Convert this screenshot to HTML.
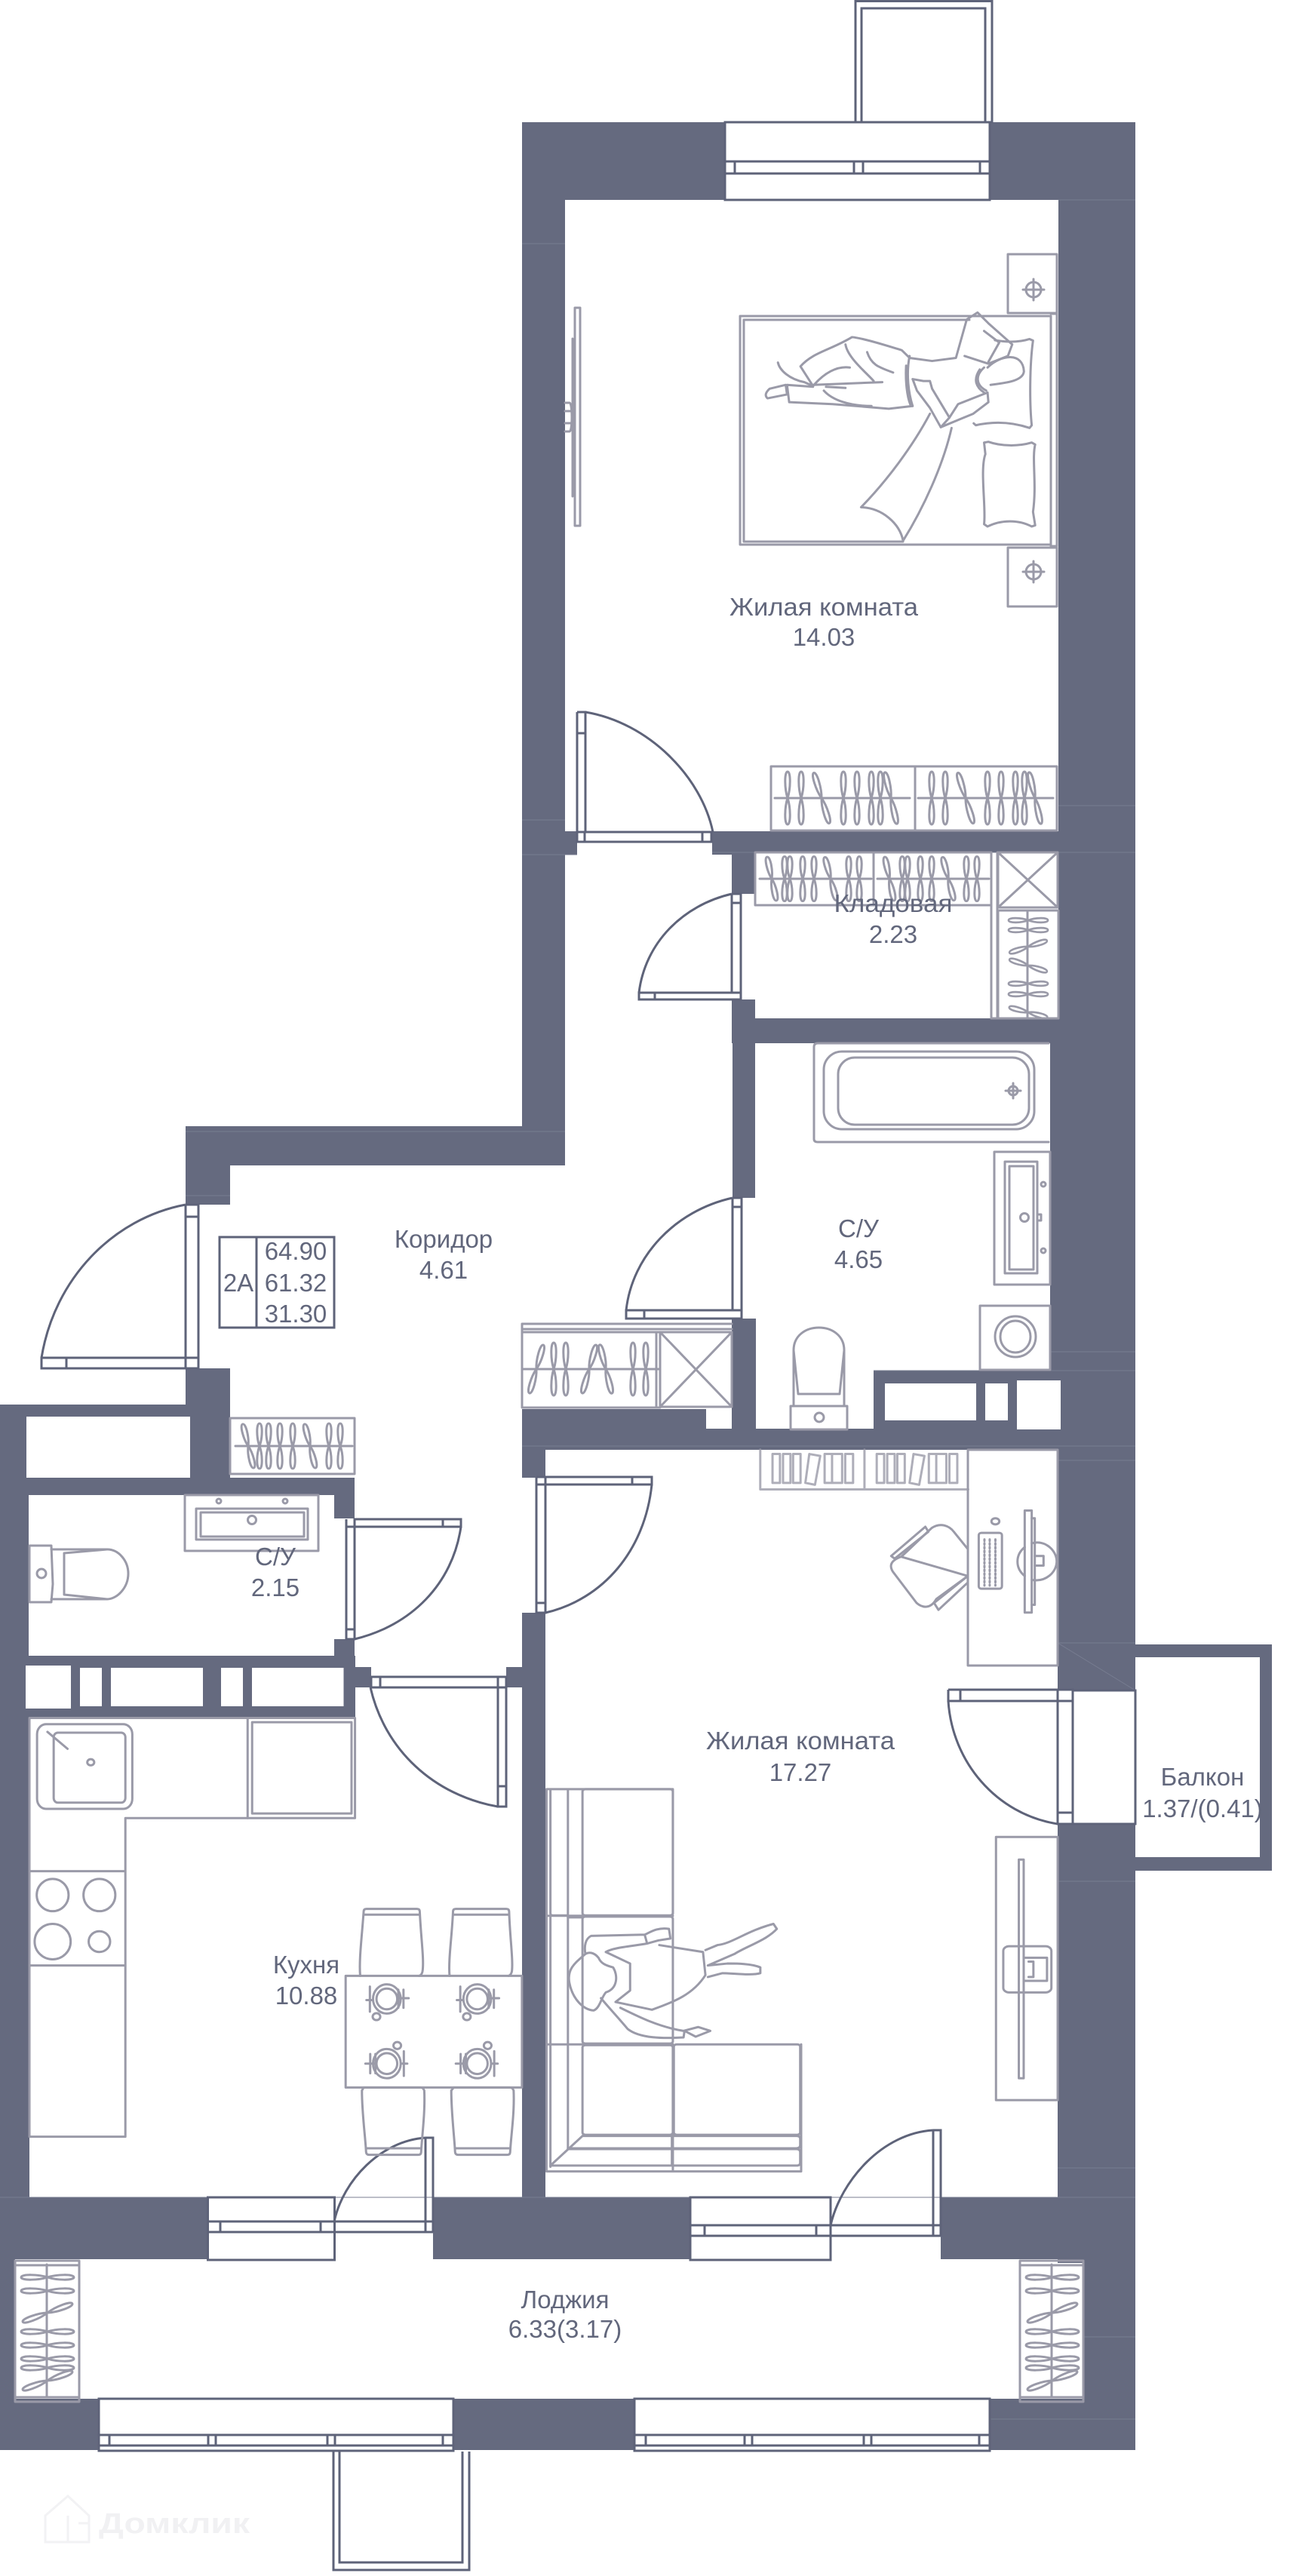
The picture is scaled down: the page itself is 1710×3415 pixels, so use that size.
<!DOCTYPE html>
<html><head><meta charset="utf-8"><style>
html,body{margin:0;padding:0;background:#fff}
svg{display:block}
text{font-family:"Liberation Sans",sans-serif;font-size:33px;fill:#62677c;text-anchor:middle}
.w{fill:#656a7f}
.k{fill:#fff}
.d *,.d{fill:none;stroke:#5e6379;stroke-width:3}
.f *{fill:none;stroke:#9a9aa8;stroke-width:3;vector-effect:non-scaling-stroke;stroke-linejoin:round;stroke-linecap:round}
.fl line{stroke:#787d91;stroke-width:1}
</style></head><body>
<svg width="1710" height="3415" viewBox="0 0 1710 3415" xmlns="http://www.w3.org/2000/svg">
<defs>
<path id="h" d="M0,-35C4.500,-35 4,-12 0,0C-4,12 -4.500,35 0,35C4.500,35 4,12 0,0C-4,-12 -4.500,-35 0,-35Z"/>
<g id="rackA">
<use href="#h" x="1044" y="1058"/><use href="#h" x="1062" y="1058"/><use href="#h" transform="translate(1089 1058) rotate(-17)"/><use href="#h" x="1118" y="1058"/><use href="#h" x="1136" y="1058"/><use href="#h" x="1155" y="1058"/><use href="#h" x="1167" y="1058"/><use href="#h" transform="translate(1181 1058) rotate(-13)"/>
</g>
<g id="rackB">
<use href="#h" transform="translate(1023 1165) rotate(-12) scale(1 .85)"/><use href="#h" transform="translate(1040 1165) scale(1 .85)"/><use href="#h" transform="translate(1047 1165) scale(1 .85)"/><use href="#h" transform="translate(1064 1165) scale(1 .85)"/><use href="#h" transform="translate(1079 1165) scale(1 .85)"/><use href="#h" transform="translate(1101 1165) rotate(-15) scale(1 .85)"/><use href="#h" transform="translate(1125 1165) scale(1 .85)"/><use href="#h" transform="translate(1139 1165) scale(1 .85)"/>
</g>
<g id="rackL">
<use href="#h" transform="translate(0 3019) rotate(90)"/><use href="#h" transform="translate(0 3037) rotate(90)"/><use href="#h" transform="translate(0 3066) rotate(70)"/><use href="#h" transform="translate(0 3091) rotate(90)"/><use href="#h" transform="translate(0 3109) rotate(90)"/><use href="#h" transform="translate(0 3127) rotate(90)"/><use href="#h" transform="translate(0 3139) rotate(90)"/><use href="#h" transform="translate(0 3156) rotate(70)"/>
</g>
</defs>
<rect width="1710" height="3415" fill="#fff"/>
<g class="w">
<rect x="692" y="162" width="269" height="103"/>
<rect x="1312" y="162" width="193" height="103"/>
<rect x="692" y="162" width="57" height="1383"/>
<rect x="1403" y="265" width="102" height="1085"/>
<rect x="749" y="1102" width="16" height="31"/>
<rect x="944" y="1102" width="561" height="28"/>
<rect x="944" y="1102" width="26" height="31"/>
<rect x="970" y="1129" width="31" height="56"/>
<rect x="970" y="1325" width="31" height="58"/>
<rect x="970" y="1350" width="535" height="33"/>
<rect x="1392" y="1383" width="113" height="539"/>
<rect x="971" y="1383" width="30" height="205"/>
<rect x="970" y="1748" width="32" height="174"/>
<rect x="692" y="1868" width="244" height="54"/>
<rect x="936" y="1894" width="569" height="28"/>
<rect x="1158" y="1817" width="347" height="105"/>
<rect x="692" y="1922" width="31" height="37"/>
<rect x="1402" y="1922" width="103" height="319"/>
<rect x="1505" y="2180" width="181" height="17"/>
<rect x="1670" y="2180" width="16" height="300"/>
<rect x="1505" y="2462" width="181" height="18"/>
<rect x="1402" y="2418" width="103" height="582"/>
<rect x="692" y="2138" width="31" height="775"/>
<rect x="671" y="2210" width="21" height="27"/>
<rect x="0" y="2913" width="275" height="82"/>
<rect x="574" y="2913" width="341" height="82"/>
<rect x="1247" y="2913" width="258" height="82"/>
<rect x="0" y="2195" width="39" height="800"/>
<rect x="0" y="2995" width="20" height="185"/>
<rect x="1437" y="2995" width="68" height="185"/>
<rect x="0" y="3180" width="131" height="68"/>
<rect x="601" y="3180" width="240" height="68"/>
<rect x="1312" y="3180" width="193" height="68"/>
<rect x="246" y="1493" width="503" height="52"/>
<rect x="246" y="1545" width="59" height="52"/>
<rect x="246" y="1814" width="59" height="64"/>
<rect x="0" y="1862" width="305" height="16"/>
<rect x="252" y="1878" width="53" height="81"/>
<rect x="0" y="1862" width="35" height="97"/>
<rect x="0" y="1959" width="470" height="23"/>
<rect x="0" y="1982" width="38" height="213"/>
<rect x="443" y="1982" width="27" height="31"/>
<rect x="443" y="2173" width="27" height="22"/>
<rect x="0" y="2195" width="471" height="81"/>
<rect x="471" y="2210" width="21" height="27"/>
</g>
<g class="k">
<rect x="1173" y="1834" width="121" height="49"/>
<rect x="1306" y="1834" width="30" height="49"/>
<rect x="1348" y="1830" width="58" height="65"/>
<rect x="34" y="2208" width="60" height="57"/>
<rect x="106" y="2211" width="29" height="51"/>
<rect x="147" y="2211" width="122" height="51"/>
<rect x="293" y="2211" width="29" height="51"/>
<rect x="334" y="2211" width="121.500" height="51"/>
</g>
<g class="fl">
<line x1="692" y1="323" x2="749" y2="323"/>
<line x1="1403" y1="265" x2="1505" y2="265"/>
<line x1="692" y1="1087" x2="749" y2="1087"/>
<line x1="692" y1="1133" x2="765" y2="1133"/>
<line x1="944" y1="1130" x2="1505" y2="1130"/>
<line x1="1403" y1="1068" x2="1505" y2="1068"/>
<line x1="246" y1="1500" x2="749" y2="1500"/>
<line x1="246" y1="1585" x2="305" y2="1585"/>
<line x1="1392" y1="1792" x2="1505" y2="1792"/>
<line x1="1158" y1="1817" x2="1505" y2="1817"/>
<line x1="692" y1="1917" x2="1505" y2="1917"/>
<line x1="1402" y1="1936" x2="1505" y2="1936"/>
<line x1="1402" y1="2178" x2="1505" y2="2178"/>
<line x1="1402" y1="2178" x2="1505" y2="2241"/>
<line x1="1402" y1="2494" x2="1505" y2="2494"/>
<line x1="1402" y1="2874" x2="1505" y2="2874"/>
<line x1="0" y1="2913" x2="1505" y2="2913"/>
<line x1="1437" y1="3098" x2="1505" y2="3098"/>
<line x1="1312" y1="3207" x2="1505" y2="3207"/>
</g>
<g class="d">
<rect x="1134" y="1.500" width="181" height="160.500"/>
<rect x="1142" y="11" width="164" height="151"/>
<rect x="961" y="162" width="351" height="103"/>
<path d="M961,214H1312M961,230H1312M974,214V230M1132,214V230M1144,214V230M1299,214V230"/>
<path d="M765,944H776V1103M765,944V1116H943V1103H765M765,972H776M775,1103V1116M931,1103V1116"/>
<path d="M776,944C860,958 930,1030 945,1103"/>
<path d="M970,1185H982V1325H847V1316H982M970,1185V1316M868,1316V1325M970,1197H982"/>
<path d="M970,1185C905,1200 855,1250 847,1316"/>
<path d="M971,1588H983V1748H830V1737H983M971,1588V1737M854,1737V1748M971,1600H983"/>
<path d="M971,1588C895,1605 838,1665 830,1737"/>
<path d="M246,1597H263V1814H55V1800H263M246,1597V1800M246,1613H263M88,1800V1814M246,1800V1814"/>
<path d="M246,1597C150,1615 72,1695 55,1800"/>
<path d="M459,2014V2173H470V2014H611V2024H459M587,2014V2024M459,2160H470"/>
<path d="M611,2024C600,2100 545,2155 470,2173"/>
<path d="M492,2223H671V2395H660V2223M492,2223V2237H671M504,2223V2237M660,2368H671"/>
<path d="M491,2237C510,2320 575,2380 660,2395"/>
<path d="M711,1959V2138H723V1959M711,1958H864V1968H711M838,1958V1968M711,2125H723"/>
<path d="M864,1968C855,2055 800,2120 723,2138"/>
<path d="M1257,2240H1422V2418H1402V2241M1257,2240V2255H1402M1273,2240V2255M1402,2255H1422M1402,2403H1422"/>
<path d="M1257,2255C1262,2335 1320,2405 1402,2418"/>
<path d="M1422,2241H1505V2418H1422" stroke-width="2"/>
<rect x="275.500" y="2913" width="168" height="83"/>
<path d="M275,2945H574M275,2959H574M292,2945V2959M425,2945V2959M564,2834H574V2959M564,2834V2959"/>
<path d="M443,2945C455,2890 505,2838 564,2834"/>
<rect x="915" y="2913" width="186" height="83"/>
<path d="M915,2950H1247M915,2964H1247M934,2950V2964M1082,2950V2964M1237,2824H1247V2964M1237,2824V2964"/>
<path d="M1101,2950C1115,2890 1170,2828 1237,2824"/>
<rect x="131" y="3180" width="470" height="69"/>
<path d="M131,3228H601M131,3242H601M145,3228V3242M276,3228V3242M286,3228V3242M434,3228V3242M444,3228V3242M587,3228V3242"/>
<rect x="841" y="3180" width="471" height="69"/>
<path d="M841,3228H1312M841,3242H1312M856,3228V3242M987,3228V3242M997,3228V3242M1145,3228V3242M1155,3228V3242M1298,3228V3242"/>
<path d="M442,3250V3407H622V3250M450,3250V3397H613V3250"/>
<rect x="291" y="1640" width="152" height="120"/>
<path d="M340,1640V1760"/>
</g>
<g class="f">
<rect x="1336" y="337" width="65" height="78"/>
<rect x="1336" y="726" width="65" height="78"/>
<circle cx="1370" cy="384" r="10"/>
<path d="M1370,370V398M1356,384H1384"/>
<circle cx="1370" cy="758" r="10"/>
<path d="M1370,744V772M1356,758H1384"/>
<rect x="981" y="419" width="412" height="303"/>
<path d="M986,718V424H1285M986,718H1197M1393,416H1401V724H1393"/>
<rect x="762" y="408" width="7" height="289"/>
<path d="M759,449V658M749,534H755C759,534 759,572 755,572H749M749,545H759V561H749"/>
<g transform="translate(650 0) scale(.5741 .5102)">
<path d="M1015,1075C975,1160 915,1250 856,1318C905,1320 945,1360 953,1405C1000,1320 1045,1210 1065,1112"/>
<path d="M1116,1100L1121,1105C1160,1095 1200,1095 1245,1112L1250,1105C1245,1050 1245,950 1253,885L1245,881C1220,890 1195,890 1165,884"/>
<path d="M1140,1150L1150,1148C1180,1160 1220,1160 1250,1150L1258,1155C1250,1190 1262,1260 1253,1330L1258,1365L1250,1368C1220,1350 1180,1350 1148,1368L1140,1362C1145,1320 1130,1220 1143,1180Z"/>
<path d="M664,942C668,962 690,985 725,993L745,1003L716,952C745,915 785,910 835,876C860,878 920,900 950,910L968,930L1020,938L1075,930L1100,830L1125,812L1150,840L1205,895L1195,925L1150,945L1095,925"/>
<path d="M1140,860L1175,890L1150,940"/>
<path d="M1148,955C1180,920 1230,915 1232,965C1230,990 1190,995 1155,1000"/>
<path d="M1140,955C1120,975 1120,1000 1145,1015M1130,960C1115,985 1120,1005 1140,1020"/>
<path d="M968,925C960,970 965,1020 975,1055M960,950C958,990 962,1030 970,1052"/>
<path d="M975,985L1000,990L1015,990L1020,1010L1060,1085L1040,1110L1015,1060L985,1015Z"/>
<path d="M1040,1110L1115,1075L1150,1045L1148,1020L1080,1050L1060,1085"/>
<path d="M975,1055L920,1062L790,1050L690,1045L685,1000L745,1005M640,1035L685,1025L682,1000L645,1010Q630,1025 640,1035ZM745,1000L905,993M775,1005L820,1008M770,1015C790,1040 830,1055 880,1055"/>
<path d="M820,895C825,930 870,970 885,990M870,915C880,950 900,955 930,968M745,1003C770,970 800,950 830,955"/>
</g>
<rect x="1022" y="1016" width="191" height="85"/>
<rect x="1213" y="1016" width="188" height="85"/>
<path d="M1027,1058H1206M1217,1058H1396"/>
<use href="#rackA"/>
<use href="#rackA" x="191"/>
<rect x="1001" y="1130" width="157" height="70"/>
<rect x="1158" y="1130" width="156" height="70"/>
<path d="M1007,1165H1155M1163,1165H1311M1314,1130V1350M1322,1130V1350"/>
<rect x="1323" y="1130" width="79" height="73"/>
<path d="M1323,1130L1402,1203M1402,1130L1323,1203"/>
<rect x="1323" y="1207" width="80" height="143"/>
<path d="M1362,1207V1350M1314,1350H1403"/>
<use href="#rackB"/>
<use href="#rackB" x="156"/>
<use href="#h" transform="translate(1363 1220) rotate(90) scale(.9 .75)"/>
<use href="#h" transform="translate(1363 1233) rotate(90) scale(.9 .75)"/>
<use href="#h" transform="translate(1363 1255) rotate(72) scale(.9 .75)"/>
<use href="#h" transform="translate(1363 1280) rotate(108) scale(.9 .75)"/>
<use href="#h" transform="translate(1363 1304) rotate(90) scale(.9 .75)"/>
<use href="#h" transform="translate(1363 1318) rotate(90) scale(.9 .75)"/>
<use href="#h" transform="translate(1363 1342) rotate(105) scale(.9 .75)"/>
<path d="M1079,1510V1388Q1079,1383 1084,1383H1390M1079,1510Q1079,1514 1084,1514H1390"/>
<rect x="1092" y="1394" width="279" height="103" rx="24"/>
<rect x="1111" y="1402" width="253" height="89" rx="22"/>
<circle cx="1343" cy="1446" r="6"/>
<path d="M1343,1436V1456M1333,1446H1353"/>
<rect x="1318" y="1527" width="74" height="176"/>
<rect x="1332" y="1540" width="43" height="148"/>
<rect x="1338" y="1546" width="32" height="137"/>
<circle cx="1358" cy="1614" r="5.500"/>
<circle cx="1383" cy="1570" r="3"/>
<circle cx="1383" cy="1658" r="3"/>
<path d="M1375,1610H1380V1618H1375"/>
<rect x="1299" y="1731" width="93" height="85"/>
<ellipse cx="1346" cy="1772" rx="27" ry="27"/>
<ellipse cx="1346" cy="1772" rx="20" ry="21"/>
<rect x="1048" y="1864" width="75" height="31"/>
<ellipse cx="1086" cy="1879" rx="6" ry="6"/>
<path d="M1052,1862V1790C1052,1750 1119,1750 1119,1790V1862"/>
<path d="M1052,1790L1058,1848H1113L1119,1790"/>
<path d="M692,1866V1755H970M692,1762H970M692,1766H875M692,1866H875M692,1815H873"/>
<rect x="875" y="1766" width="95" height="99"/>
<path d="M875,1766L970,1865M970,1766L875,1865M870,1766V1866"/>
<use href="#h" transform="translate(711 1815) rotate(16) scale(1 .95)"/>
<use href="#h" x="734" y="1815"/>
<use href="#h" x="750" y="1815"/>
<use href="#h" transform="translate(781 1815) rotate(16) scale(1 .95)"/>
<use href="#h" transform="translate(803 1815) rotate(-14) scale(1 .95)"/>
<use href="#h" x="839" y="1815"/>
<use href="#h" x="856" y="1815"/>
<rect x="305" y="1880" width="165" height="74"/>
<path d="M312,1917H467"/>
<use href="#h" transform="translate(329 1917) rotate(-14) scale(1 .86)"/>
<use href="#h" transform="translate(344 1917) scale(1 .86)"/>
<use href="#h" transform="translate(356 1917) scale(1 .86)"/>
<use href="#h" transform="translate(371 1917) scale(1 .86)"/>
<use href="#h" transform="translate(388 1917) scale(1 .86)"/>
<use href="#h" transform="translate(411 1917) rotate(-14) scale(1 .86)"/>
<use href="#h" transform="translate(436 1917) scale(1 .86)"/>
<use href="#h" transform="translate(451 1917) scale(1 .86)"/>
<rect x="245" y="1982" width="177" height="74"/>
<rect x="260" y="2000" width="148" height="41"/>
<rect x="266" y="2005" width="137" height="32"/>
<circle cx="334" cy="2015" r="5.500"/>
<circle cx="290" cy="1990" r="3"/>
<circle cx="378" cy="1990" r="3"/>
<path d="M39,2049H68L70,2100L68,2124H39Z"/>
<circle cx="55" cy="2086" r="6"/>
<path d="M68,2054H142C158,2054 170,2070 170,2086C170,2105 155,2120 142,2120H68"/>
<path d="M85,2059L142,2054M85,2059V2114L142,2120"/>
<g transform="translate(0 2200) scale(.4591 .5102)">
<path d="M85,152H1025V412H362V1240H85Z"/>
<path d="M715,152V412"/>
<rect x="728" y="163" width="287" height="237"/>
<rect x="107" y="168" width="275" height="220" rx="26"/>
<rect x="155" y="190" width="207" height="182" rx="12"/>
<ellipse cx="262" cy="267" rx="10" ry="8"/>
<path d="M137,188L195,232"/>
<path d="M85,550H360M85,795H360"/>
<ellipse cx="152" cy="612" rx="46" ry="42"/>
<ellipse cx="287" cy="612" rx="46" ry="42"/>
<ellipse cx="152" cy="733" rx="52" ry="46"/>
<ellipse cx="287" cy="733" rx="31" ry="27"/>
<rect x="998" y="822" width="509" height="290"/>
<path d="M1040,822C1036,780 1045,720 1050,655Q1050,648 1058,648H1204Q1212,648 1212,655C1215,720 1225,780 1220,810Q1218,820 1210,822M1050,663H1212"/>
<path d="M1298,822C1294,780 1305,720 1308,655Q1308,648 1316,648H1462Q1470,648 1470,655C1472,720 1482,780 1478,810Q1476,820 1468,822M1308,663H1470"/>
<path d="M1045,1120C1045,1180 1055,1240 1057,1280Q1058,1287 1066,1287H1208Q1216,1287 1216,1280C1218,1240 1228,1180 1225,1120Q1222,1112 1215,1112H1050ZM1057,1270H1216"/>
<path d="M1303,1120C1303,1180 1312,1240 1314,1280Q1315,1287 1323,1287H1465Q1473,1287 1473,1280C1475,1240 1486,1180 1483,1120Q1480,1112 1473,1112H1310ZM1314,1270H1473"/>
<ellipse cx="1117" cy="882" rx="40" ry="38"/>
<ellipse cx="1117" cy="882" rx="30" ry="27"/>
<path d="M1068,850V915M1058,885H1075M1150,858V905M1165,858V905M1180,880H1155"/>
<ellipse cx="1087" cy="928" rx="11" ry="9"/>
<ellipse cx="1378" cy="882" rx="40" ry="38"/>
<ellipse cx="1378" cy="882" rx="30" ry="27"/>
<path d="M1329,850V915M1319,885H1336M1411,858V905M1426,858V905M1441,880H1416"/>
<ellipse cx="1348" cy="928" rx="11" ry="9"/>
<ellipse cx="1117" cy="1050" rx="40" ry="38"/>
<ellipse cx="1117" cy="1050" rx="30" ry="27"/>
<path d="M1166,1018V1082M1176,1050H1160M1084,1025V1075M1069,1025V1075M1055,1050H1080"/>
<ellipse cx="1147" cy="1003" rx="11" ry="9"/>
<ellipse cx="1378" cy="1050" rx="40" ry="38"/>
<ellipse cx="1378" cy="1050" rx="30" ry="27"/>
<path d="M1427,1018V1082M1437,1050H1421M1345,1025V1075M1330,1025V1075M1316,1050H1341"/>
<ellipse cx="1408" cy="1003" rx="11" ry="9"/>
</g>
<rect x="1283" y="1922" width="119" height="286"/>
<g transform="translate(800 1500) scale(.5804 .5102)" opacity=".8">
<path d="M358,827V930H833M596,827V930"/>
<path d="M386,838h17v75h-17zM410,838h17v75h-17zM433,838h17v75h-17zM470,838l25,5-12,75-22-5zM505,838h17v75h-17zM522,838h23v75h-23zM552,838h18v75h-18z"/>
<path d="M624,838h17v75h-17zM648,838h17v75h-17zM671,838h17v75h-17zM708,838l25,5-12,75-22-5zM743,838h17v75h-17zM760,838h23v75h-23zM790,838h18v75h-18z"/>
</g>
<g transform="translate(800 1500) scale(.5804 .5102)">
<path d="M657,1103L735,1027L742,1040L665,1110Z"/>
<path d="M680,1105C690,1095 740,1040 750,1030C770,1015 790,1025 800,1040L832,1085M832,1155L760,1215C745,1245 725,1235 715,1225L665,1150C650,1130 655,1115 680,1105Z"/>
<path d="M755,1225L832,1155V1172L765,1243Z"/>
<rect x="857" y="1043" width="53" height="145" rx="6"/>
<path d="M870,1060V1180M882,1060V1180M895,1060V1180" stroke-dasharray="2 3"/>
<ellipse cx="895" cy="1013" rx="9" ry="8"/>
<rect x="962" y="985" width="16" height="265"/>
<path d="M978,1005H985V1230H978"/>
<path d="M978,1070C1010,1060 1035,1090 1035,1117C1035,1145 1010,1172 978,1165M962,1080C940,1100 940,1135 962,1155"/>
<path d="M985,1103H1005V1128H985"/>
</g>
<g transform="translate(700 2200) scale(.6441 .5102)">
<path d="M38,1330V337H298V660"/>
<path d="M46,340V660Q46,665 52,665H82V340M82,670H112"/>
<rect x="112" y="337" width="186" height="328" rx="6"/>
<rect x="112" y="668" width="186" height="330" rx="6"/>
<path d="M46,670V998M82,670V998M46,1002V1318M82,1002V1272"/>
<path d="M38,666H298M38,1000H298"/>
<rect x="112" y="1002" width="186" height="233" rx="6"/>
<rect x="300" y="1000" width="260" height="235" rx="6"/>
<path d="M300,1238H552Q560,1238 560,1245V1262Q560,1270 552,1270H300M300,1272H552Q560,1272 560,1280V1308Q560,1315 552,1315H300M112,1238H296V1270H82M82,1272H296V1315H46L112,1238"/>
<path d="M38,1330H562V1000M298,1000V1330"/>
<rect x="963" y="461" width="127" height="684"/>
<rect x="1010" y="520" width="10" height="568"/>
<path d="M1020,600V1012"/>
<rect x="978" y="745" width="99" height="120" rx="12"/>
<path d="M1022,775H1068V835H1022M1030,785H1040V825H1030"/>
<path d="M160,760C175,748 215,745 245,738L240,715L130,718C118,725 115,745 118,765M240,715C250,710 265,695 290,700L293,725L268,730L245,738"/>
<path d="M160,760L210,790L210,860L180,890L255,910C300,890 340,870 365,820L360,760L270,742"/>
<path d="M365,755L390,742C420,738 450,705 505,687L512,700C490,730 450,745 425,765L370,795M370,795L410,790C430,790 460,790 478,800V815C460,822 420,815 400,815L370,825"/>
<path d="M118,765C95,790 80,805 85,840C92,885 115,910 135,912C148,905 150,880 160,865C185,855 185,820 175,800C160,795 150,790 145,775C135,760 125,760 118,765Z"/>
<path d="M150,880C170,910 185,930 205,960C230,985 280,985 320,982L322,965L345,980L375,965L350,955L320,965C270,955 230,930 190,905"/>
</g>
<path d="M20,2997H105V3184H20ZM20,3003H105M20,3178H105M62,3002V3177"/>
<path d="M1352,2997H1436V3184H1352ZM1352,3003H1436M1352,3178H1436M1394,3002V3177"/>
<use href="#rackL" x="63"/>
<use href="#rackL" x="1395"/>
</g>
<path d="M60,3335L90,3309L118,3335V3370H60ZM90,3335V3370M104,3345H118" fill="none" stroke="#f2f2f4" stroke-width="3"/>
<text x="131" y="3358" textLength="200" lengthAdjust="spacingAndGlyphs" style="font-size:38px;font-weight:bold;fill:#f1f1f3;text-anchor:start">Домклик</text>
<text x="1092" y="816" textLength="250" lengthAdjust="spacingAndGlyphs">Жилая комната</text>
<text x="1092" y="856">14.03</text>
<text x="1184" y="1209" textLength="157" lengthAdjust="spacingAndGlyphs">Кладовая</text>
<text x="1184" y="1250">2.23</text>
<text x="1138" y="1640">С/У</text>
<text x="1138" y="1681">4.65</text>
<text x="588" y="1654">Коридор</text>
<text x="588" y="1695">4.61</text>
<text x="316" y="1712">2А</text>
<text x="392" y="1670">64.90</text>
<text x="392" y="1712">61.32</text>
<text x="392" y="1753">31.30</text>
<text x="365" y="2075">С/У</text>
<text x="365" y="2116">2.15</text>
<text x="406" y="2616">Кухня</text>
<text x="406" y="2657">10.88</text>
<text x="1061" y="2319" textLength="250" lengthAdjust="spacingAndGlyphs">Жилая комната</text>
<text x="1061" y="2361">17.27</text>
<text x="1594" y="2367">Балкон</text>
<text x="1594" y="2409">1.37/(0.41)</text>
<text x="749" y="3060">Лоджия</text>
<text x="749" y="3099">6.33(3.17)</text>
</svg>
</body></html>
